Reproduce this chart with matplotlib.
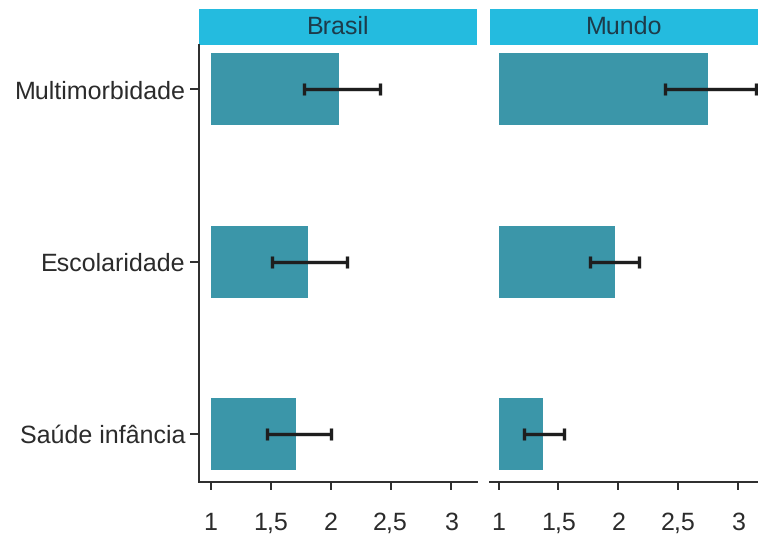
import matplotlib
matplotlib.use("Agg")
import matplotlib.pyplot as plt
from matplotlib.patches import Rectangle

# Odds ratios (bars) with confidence intervals (error bars)
categories = ["Multimorbidade", "Escolaridade", "Saúde infância"]
panels = ["Brasil", "Mundo"]
or_brasil = [2.07, 1.81, 1.71]
ci_low_brasil = [1.78, 1.51, 1.47]
ci_high_brasil = [2.41, 2.14, 2.00]
or_mundo = [2.75, 1.97, 1.37]
ci_low_mundo = [2.39, 1.76, 1.21]
ci_high_mundo = [3.15, 2.17, 1.55]
xticks = [1, 1.5, 2, 2.5, 3]
xtick_labels = ["1", "1,5", "2", "2,5", "3"]

plt.rcParams["font.family"] = "Liberation Sans"
plt.rcParams["text.hinting"] = "no_hinting"
plt.rcParams["text.hinting_factor"] = 1

BAR = "#3b96a9"
STRIP = "#24bbdf"
INK = "#2b2b2b"
W, H = 758, 539

fig = plt.figure(figsize=(W / 100, H / 100), dpi=100)
fig.patch.set_facecolor("white")


def px_axes(x0, x1, y0, y1):
    return fig.add_axes([x0 / W, 1 - y1 / H, (x1 - x0) / W, (y1 - y0) / H])


ax_b = px_axes(199, 477, 45, 482)
ax_m = px_axes(490, 758, 45, 482)

data = [
    (ax_b, or_brasil, ci_low_brasil, ci_high_brasil, (0.904, 3.22)),
    (ax_m, or_mundo, ci_low_mundo, ci_high_mundo, (0.929, 3.163)),
]

ypos = list(range(len(categories)))
for (ax, vals, lo, hi, xl), name in zip(data, panels):
    widths = [v - 1 for v in vals]
    ax.barh(ypos, widths, left=1, height=0.418, color=BAR, zorder=2)
    xerr = [[v - l for v, l in zip(vals, lo)], [h - v for v, h in zip(vals, hi)]]
    ax.errorbar(vals, ypos, xerr=xerr, fmt="none", ecolor="#1e1e1e",
                elinewidth=2.4, capsize=4.2, capthick=2.4, zorder=3)
    ax.set_xlim(*xl)
    ax.set_ylim(2.279, -0.258)
    ax.set_xticks(xticks)
    ax.set_xticklabels(xtick_labels)
    # baseline-aligned tick labels so "1" and "1,5" sit on the same line
    ax.tick_params(axis="x", length=5.8, width=1.4, color=INK, labelsize=18,
                   labelcolor=INK, pad=28.8)
    for lab in ax.get_xticklabels():
        lab.set_verticalalignment("baseline")
    for s in ["top", "right"]:
        ax.spines[s].set_visible(False)
    for s in ["left", "bottom"]:
        ax.spines[s].set_linewidth(1.4)
        ax.spines[s].set_color(INK)
    # panel header strip
    strip_h = 36 / 437
    ax.add_patch(Rectangle((0, 1), 1, strip_h, transform=ax.transAxes,
                           facecolor=STRIP, edgecolor="none", clip_on=False))
    ax.text(0.5, 1 + strip_h / 2, name, transform=ax.transAxes, ha="center",
            va="center", fontsize=18, color="#1d3b4a")

ax_b.set_yticks(ypos)
ax_b.set_yticklabels(categories)
ax_b.tick_params(axis="y", length=6.5, width=1.4, color=INK, labelsize=18,
                 labelcolor=INK, pad=3)

ax_m.set_yticks([])
ax_m.spines["left"].set_visible(False)

fig.savefig("out.png", dpi=100)
